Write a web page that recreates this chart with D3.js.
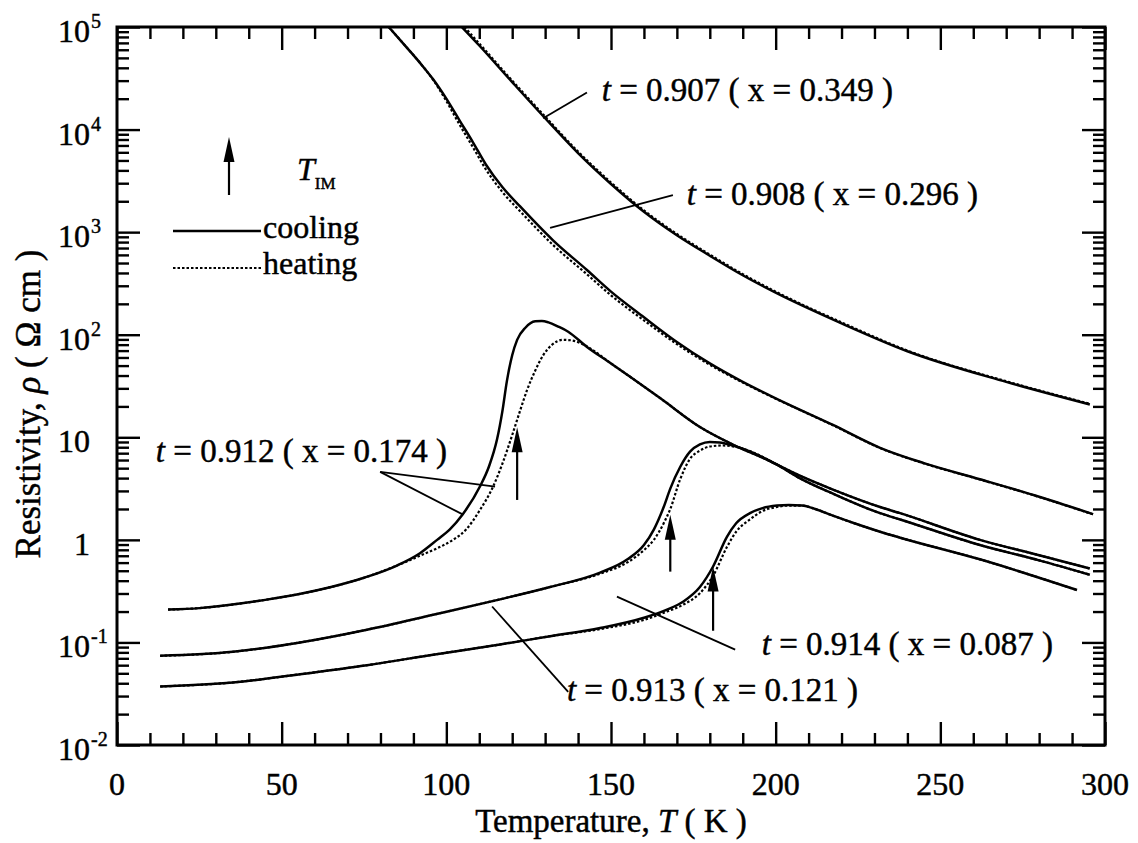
<!DOCTYPE html>
<html><head><meta charset="utf-8">
<script src="https://cdn.jsdelivr.net/npm/d3@7"></script>
<style>
body{margin:0;background:#fff;}
text{font-family:"Liberation Serif","Times New Roman",serif;fill:#000;stroke:#000;stroke-width:0.45px;}
</style></head><body>
<svg id="chart" width="1138" height="843"></svg>
<script>
// Axis ticks
const xTickValues = [0, 50, 100, 150, 200, 250, 300];
const xTickLabels = ["0", "50", "100", "150", "200", "250", "300"];
const yDecadeValues = [1e-2, 1e-1, 1, 10, 1e2, 1e3, 1e4, 1e5];
const yTickBase = ["10", "10", "1", "10", "10", "10", "10", "10"];
const yTickExp = ["-2", "-1", "", "", "2", "3", "4", "5"];

// Resistivity vs temperature, [T (K), rho (ohm cm)]
const t907Cooling = [[104.7,1.0e5],[110,6.6e4],[120,2.9e4],[130,1.29e4],[140,5.9e3],[150,2.95e3],[160,1.58e3],[170,933],[180,589],[190,380],[200,257],[220,129],[240,69],[270,34.7],[295.4,20.9]];
const t907Heating = [[105.5,1.0e5],[110,6.9e4],[120,3.0e4],[130,1.34e4],[140,6.1e3],[150,3.05e3],[160,1.63e3],[170,960],[180,605],[190,390],[200,263],[220,132],[240,70],[270,35.2],[295.4,21.2]];

const t908Cooling = [[82.5,1.0e5],[88,6.3e4],[92,4.47e4],[96,3.09e4],[100,2.0e4],[104,1.23e4],[108,7.6e3],[112,4.57e3],[117,2.75e3],[122.4,1.78e3],[132.4,832],[142.7,427],[150,263],[160,148],[170,85],[180,52.5],[190,34.7],[200,24],[217.4,13.2],[231.7,7.9],[245,5.6],[262,3.9],[280,2.63],[296.4,1.78]];
const t908Heating = [[82.5,1.0e5],[88,6.3e4],[92,4.47e4],[96,3.05e4],[100,1.9e4],[104,1.12e4],[108,6.8e3],[112,4.1e3],[117,2.47e3],[122.4,1.6e3],[132.4,750],[142.7,388],[150,242],[160,138],[170,81],[180,51],[190,34.2],[200,23.8],[217.4,13.1],[231.7,7.85],[245,5.57],[262,3.88],[280,2.62],[296.4,1.77]];

const t912Cooling = [[15.5,0.209],[25,0.216],[35,0.234],[45,0.26],[55,0.295],[65,0.347],[75,0.427],[85,0.562],[92,0.741],[97.2,1.0],[101,1.26],[105,1.78],[110.2,3.31],[113,5.25],[115.4,9.55],[117,17.8],[118.4,35.5],[120,63],[121.5,89],[124,117],[127,135],[129,136],[131,132],[134,120],[137,107],[142.7,76],[150,52.5],[155.8,38.9],[165,24],[177,12.6],[187,8.5],[197.4,6.03],[207,4.27],[217.4,3.09],[231.7,2.09],[237.8,1.82],[262,1.0],[280,0.708],[295.4,0.525]];
const t912Heating = [[15.5,0.209],[25,0.216],[35,0.234],[45,0.26],[55,0.295],[65,0.347],[75,0.427],[85,0.562],[92,0.70],[97,0.822],[102,1.0],[106,1.26],[110,1.91],[114.2,3.31],[117,5.5],[120.2,11.0],[122.5,18.6],[124.5,28.8],[127,44.7],[129.4,63],[132,79.4],[135.4,89.1],[138,88.1],[140.6,83.2],[144.5,70.8],[150,52.5],[155.8,38.9],[165,24],[177,12.6],[187,8.5],[197.4,6.03],[207,4.27],[217.4,3.09],[231.7,2.09],[237.8,1.82],[262,1.0],[280,0.708],[295.4,0.525]];

const t913Cooling = [[13.1,0.074],[35.2,0.081],[55.6,0.100],[75.9,0.133],[96,0.186],[116.3,0.263],[131.5,0.347],[146.7,0.479],[155,0.646],[160,0.891],[163,1.26],[166,2.09],[168,3.16],[171,5.13],[174,7.24],[177,8.51],[180,9.0],[183,8.9],[187,8.3],[190,7.76],[200,5.5],[207.4,3.98],[217.4,2.82],[231.7,1.82],[237.8,1.58],[262,0.891],[280,0.631],[295.4,0.457]];
const t913Heating = [[13.1,0.074],[35.2,0.081],[55.6,0.100],[75.9,0.133],[96,0.186],[116.3,0.263],[131.5,0.347],[146.7,0.468],[155,0.603],[160,0.794],[163,1.0],[166,1.45],[168,2.0],[171,3.89],[174,6.17],[177,7.41],[180,8.13],[184,8.32],[190,7.76],[200,5.5],[207.4,3.98],[217.4,2.82],[231.7,1.82],[237.8,1.58],[262,0.891],[280,0.631],[295.4,0.457]];

const t914Cooling = [[13.1,0.0372],[35.2,0.0407],[55.6,0.049],[75.9,0.060],[96,0.0759],[116.3,0.0955],[131.5,0.115],[146.7,0.138],[160,0.174],[167,0.209],[172,0.251],[177,0.347],[181,0.55],[185.2,1.07],[188,1.45],[192.2,1.82],[196,2.04],[200.4,2.16],[204,2.19],[208,2.16],[212,2.0],[217.4,1.72],[225,1.41],[231.7,1.2],[237.8,1.05],[262,0.646],[291.5,0.324]];
const t914Heating = [[13.1,0.0372],[35.2,0.0407],[55.6,0.049],[75.9,0.060],[96,0.0759],[116.3,0.0955],[131.5,0.115],[146.7,0.135],[160,0.166],[167,0.2],[172,0.234],[177,0.302],[181,0.447],[185.2,0.851],[188,1.2],[192.2,1.58],[196,1.91],[200.4,2.09],[204,2.16],[208,2.16],[212,2.0],[217.4,1.72],[225,1.41],[231.7,1.2],[237.8,1.05],[262,0.646],[291.5,0.324]];

// Metal-insulator transition temperatures T_IM: [T, arrow base rho, arrow tip rho]
const tIMArrows = [[121.5, 2.45, 12.5], [168, 0.49, 1.76], [181, 0.13, 0.55]];

// Curve labels: t, x, and [label end T, baseline rho]
const curveTs = ["0.907", "0.908", "0.912", "0.914", "0.913"];
const curveXs = ["0.349", "0.296", "0.174", "0.087", "0.121"];
const labelAnchors = [[235.6, 1.9e4], [261.4, 1840], [100.2, 5.8], [284.2, 0.0755], [225, 0.0268]];
// Leader lines: [[T1, rho1], [T2, rho2]]
const leaders = [
  [[129.4, 1.29e4], [142.7, 2.3e4]],
  [[131.5, 1100], [168.8, 2290]],
  [[114.8, 3.3], [79.9, 4.6]],
  [[105.1, 1.76], [79.9, 4.6]],
  [[113.9, 0.224], [137, 0.033]],
  [[151.8, 0.28], [187.7, 0.085]]
];

const svg = d3.select("#chart");
const x = d3.scaleLinear().domain([0, 300]).range([117, 1105]);
const y = d3.scaleLog().domain([1e-2, 1e5]).range([745, 27]);

const [x0, x1] = x.range();
const [yb, yt] = y.range();

svg.append("defs").append("clipPath").attr("id", "plotclip")
  .append("rect").attr("x", x0).attr("y", yt).attr("width", x1 - x0).attr("height", yb - yt);

// Minor/major ticks
const xMinor = d3.range(0, 301, 10).filter(v => v % 50 !== 0);
const yMinor = [];
for (let e = -2; e < 5; e++) for (let m = 2; m <= 9; m++) yMinor.push(m * Math.pow(10, e));

function tickAxis(axisFn, scale, values, size, transform) {
  const g = svg.append("g").attr("transform", transform)
    .call(axisFn(scale).tickValues(values).tickSize(size).tickFormat(""));
  g.select(".domain").remove();
  g.selectAll(".tick line").attr("stroke", "#000").attr("stroke-width", 2.4);
  return g;
}
tickAxis(d3.axisBottom, x, xTickValues, -23, `translate(0,${yb})`);
tickAxis(d3.axisBottom, x, xMinor, -12, `translate(0,${yb})`);
tickAxis(d3.axisTop, x, xTickValues, -23, `translate(0,${yt})`);
tickAxis(d3.axisTop, x, xMinor, -12, `translate(0,${yt})`);
tickAxis(d3.axisLeft, y, yDecadeValues, -23, `translate(${x0},0)`);
tickAxis(d3.axisLeft, y, yMinor, -12, `translate(${x0},0)`);
tickAxis(d3.axisRight, y, yDecadeValues, -23, `translate(${x1},0)`);
tickAxis(d3.axisRight, y, yMinor, -12, `translate(${x1},0)`);

// Frame
svg.append("rect").attr("x", x0).attr("y", yt).attr("width", x1 - x0).attr("height", yb - yt)
  .attr("fill", "none").attr("stroke", "#000").attr("stroke-width", 3);

// Tick labels
svg.append("g").selectAll("text").data(xTickValues).join("text")
  .attr("x", d => x(d)).attr("y", yb + 50).attr("text-anchor", "middle")
  .attr("font-size", 32).text((d, i) => xTickLabels[i]);

const yl = svg.append("g");
yDecadeValues.forEach((v, i) => {
  yl.append("text").attr("x", 90).attr("y", y(v) + 15).attr("text-anchor", "end")
    .attr("font-size", 32).text(yTickBase[i]);
  if (yTickExp[i]) {
    yl.append("text").attr("x", 91).attr("y", y(v) + 1).attr("font-size", 20).text(yTickExp[i]);
  }
});

// Axis titles
const xt = svg.append("text").attr("x", (x0 + x1) / 2).attr("y", 832).attr("text-anchor", "middle").attr("font-size", 33);
xt.append("tspan").text("Temperature, ");
xt.append("tspan").attr("font-style", "italic").text("T");
xt.append("tspan").text(" ( K )");

const ytl = svg.append("text").attr("transform", "translate(40,404) rotate(-90)")
  .attr("text-anchor", "middle").attr("font-size", 35);
ytl.append("tspan").text("Resistivity, ");
ytl.append("tspan").attr("font-style", "italic").text("ρ");
ytl.append("tspan").text(" ( Ω cm )");

// Curves
const line = d3.line().x(d => x(d[0])).y(d => y(d[1])).curve(d3.curveMonotoneX);
const curves = svg.append("g").attr("clip-path", "url(#plotclip)");
const heatingSets = [t907Heating, t908Heating, t912Heating, t913Heating, t914Heating];
const coolingSets = [t907Cooling, t908Cooling, t912Cooling, t913Cooling, t914Cooling];
heatingSets.forEach(s => curves.append("path").attr("d", line(s)).attr("fill", "none")
  .attr("stroke", "#000").attr("stroke-width", 2.2).attr("stroke-dasharray", "2.5,2"));
coolingSets.forEach(s => curves.append("path").attr("d", line(s)).attr("fill", "none")
  .attr("stroke", "#000").attr("stroke-width", 2.5));

// Leader lines
leaders.forEach(([a, b]) => svg.append("line")
  .attr("x1", x(a[0])).attr("y1", y(a[1])).attr("x2", x(b[0])).attr("y2", y(b[1]))
  .attr("stroke", "#000").attr("stroke-width", 1.8));

// Curve labels
curveTs.forEach((t, i) => {
  const [lt, lr] = labelAnchors[i];
  const tx = svg.append("text").attr("x", x(lt)).attr("y", y(lr)).attr("text-anchor", "end").attr("font-size", 33);
  tx.append("tspan").attr("font-style", "italic").text("t");
  tx.append("tspan").text(` = ${t} ( x = ${curveXs[i]} )`);
});

// Upward arrow
function arrow(px, yBase, yTip) {
  svg.append("line").attr("x1", px).attr("x2", px).attr("y1", yBase).attr("y2", yTip + 20)
    .attr("stroke", "#000").attr("stroke-width", 2.2);
  svg.append("path").attr("d", `M${px},${yTip} L${px - 5.5},${yTip + 25} L${px + 5.5},${yTip + 25} Z`).attr("fill", "#000");
}
tIMArrows.forEach(([t, base, tip]) => arrow(x(t), y(base), y(tip)));

// Legend
arrow(229, 195, 137);
const tim = svg.append("text").attr("x", 297).attr("y", 180).attr("font-size", 32);
tim.append("tspan").attr("font-style", "italic").text("T");
tim.append("tspan").attr("font-size", 17).attr("dy", 9).text("IM");
svg.append("line").attr("x1", 173).attr("x2", 261).attr("y1", 231).attr("y2", 231)
  .attr("stroke", "#000").attr("stroke-width", 2.5);
svg.append("text").attr("x", 263).attr("y", 238).attr("font-size", 32).text("cooling");
svg.append("line").attr("x1", 173).attr("x2", 261).attr("y1", 268).attr("y2", 268)
  .attr("stroke", "#000").attr("stroke-width", 2.2).attr("stroke-dasharray", "2.5,2");
svg.append("text").attr("x", 263).attr("y", 274).attr("font-size", 32).text("heating");
</script>
</body></html>
